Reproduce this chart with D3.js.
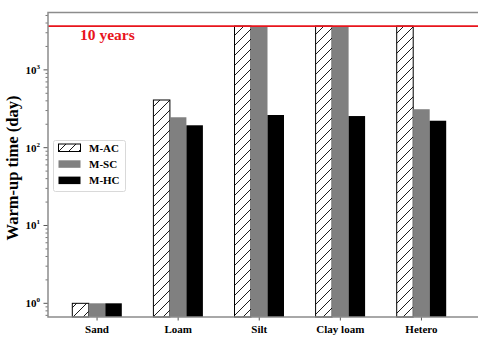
<!DOCTYPE html>
<html>
<head>
<meta charset="utf-8">
<script src="https://cdn.jsdelivr.net/npm/d3@7"></script>
<style>
  body { margin: 0; background: #fff; }
  svg text { font-family: "Liberation Serif", "DejaVu Serif", serif; font-weight: bold; }
</style>
</head>
<body>
<svg width="478" height="337"></svg>
<script>
var categories = ["Sand", "Loam", "Silt", "Clay loam", "Hetero"];
var series = ["M-AC", "M-SC", "M-HC"];
var valuesAC = [1, 410, 3650, 3650, 3650];
var valuesSC = [1, 246, 3650, 3650, 312];
var valuesHC = [1, 194, 263, 255, 222];
var yTicks = [1, 10, 100, 1000];
var tenYears = 3650;

var svg = d3.select("svg"),
    plotLeft = 48, plotTop = 12.5, plotBottom = 317, plotRight = 478;

var x = d3.scaleBand().domain(categories).range([56.5, 462]);
var xs = d3.scaleBand().domain(series).range([0, 49.5]);
var y = d3.scaleLog().domain([0.667, 5460]).range([plotBottom, plotTop]);

var defs = svg.append("defs");
var pat = defs.append("pattern")
    .attr("id", "hatch")
    .attr("patternUnits", "userSpaceOnUse")
    .attr("width", 10).attr("height", 10);
pat.append("rect").attr("width", 10).attr("height", 10).attr("fill", "#fff");
pat.append("path").attr("d", "M-1,1 l2,-2 M0,10 l10,-10 M9,11 l2,-2")
    .attr("stroke", "#000").attr("stroke-width", 0.9);

var fills = {"M-AC": "url(#hatch)", "M-SC": "#808080", "M-HC": "#000"};
var data = [valuesAC, valuesSC, valuesHC];

// bars
series.forEach(function (s, si) {
    svg.append("g").selectAll("rect")
        .data(categories)
        .enter().append("rect")
        .attr("x", function (c) { return x(c) + x.bandwidth() / 2 - 24.75 + xs(s); })
        .attr("width", xs.bandwidth())
        .attr("y", function (c, i) { return y(data[si][i]); })
        .attr("height", function (c, i) { return plotBottom - y(data[si][i]); })
        .attr("fill", fills[s])
        .attr("stroke", si == 0 ? "#000" : "none")
        .attr("stroke-width", 1);
});

// 10 years line
svg.append("line")
    .attr("x1", plotLeft).attr("x2", plotRight)
    .attr("y1", y(tenYears)).attr("y2", y(tenYears))
    .attr("stroke", "#e8141c").attr("stroke-width", 1.6);
svg.append("text")
    .attr("x", 80).attr("y", y(tenYears) + 13.5)
    .attr("fill", "#e8141c").style("font-size", "15.5px")
    .text("10 years");

// y axis minor ticks
var minor = [];
[0.1, 1, 10, 100, 1000].forEach(function (d) {
    for (var k = 2; k <= 9; k++) {
        var v = d * k;
        if (v >= 0.667 && v <= 5460 && yTicks.indexOf(v) < 0) minor.push(v);
    }
});
svg.append("g").selectAll("line").data(minor).enter().append("line")
    .attr("x1", plotLeft - 2.5).attr("x2", plotLeft)
    .attr("y1", function (d) { return y(d); }).attr("y2", function (d) { return y(d); })
    .attr("stroke", "#555").attr("stroke-width", 0.8);
svg.append("g").selectAll("line").data(yTicks).enter().append("line")
    .attr("x1", plotLeft - 4.5).attr("x2", plotLeft)
    .attr("y1", function (d) { return y(d); }).attr("y2", function (d) { return y(d); })
    .attr("stroke", "#555").attr("stroke-width", 1);

var yl = svg.append("g").selectAll("text").data(yTicks).enter().append("text")
    .attr("x", 40).attr("y", function (d) { return y(d) + 4; })
    .attr("text-anchor", "end").style("font-size", "11px");
yl.append("tspan").text("10");
yl.append("tspan").attr("dy", -5).style("font-size", "7px")
    .text(function (d) { return Math.round(Math.log10(d)); });

// x ticks and labels
svg.append("g").selectAll("line").data(categories).enter().append("line")
    .attr("x1", function (c) { return x(c) + x.bandwidth() / 2; })
    .attr("x2", function (c) { return x(c) + x.bandwidth() / 2; })
    .attr("y1", plotBottom).attr("y2", plotBottom + 3.5)
    .attr("stroke", "#555").attr("stroke-width", 1);
svg.append("g").selectAll("text").data(categories).enter().append("text")
    .attr("x", function (c) { return x(c) + x.bandwidth() / 2; })
    .attr("y", 333)
    .attr("text-anchor", "middle").style("font-size", "11px")
    .text(function (c) { return c; });

// spines
svg.append("path")
    .attr("d", "M" + plotRight + "," + plotTop + "H" + plotLeft + "V" + plotBottom + "H" + plotRight)
    .attr("fill", "none").attr("stroke", "#8c8c8c").attr("stroke-width", 1.5);

// y label
svg.append("text")
    .attr("transform", "translate(18,168) rotate(-90)")
    .attr("text-anchor", "middle").style("font-size", "16.5px")
    .text("Warm-up time (day)");

// legend
var lg = svg.append("g");
lg.append("rect").attr("x", 53.5).attr("y", 140.5).attr("width", 72).attr("height", 51)
    .attr("rx", 2).attr("fill", "#fff").attr("stroke", "#d9d9d9").attr("stroke-width", 1);
series.forEach(function (s, i) {
    var yy = 144 + i * 16.3;
    lg.append("rect").attr("x", 58.5).attr("y", yy).attr("width", 22).attr("height", 7.5)
        .attr("fill", fills[s]).attr("stroke", i == 0 ? "#000" : "none");
    lg.append("text").attr("x", 89).attr("y", yy + 7.5)
        .style("font-size", "11px").text(s);
});
</script>
</body>
</html>
